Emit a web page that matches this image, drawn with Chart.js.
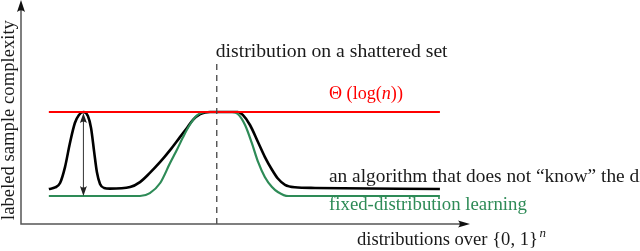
<!DOCTYPE html>
<html>
<head>
<meta charset="utf-8">
<script src="https://cdn.jsdelivr.net/npm/chart.js@4"></script>
<style>
  html, body { margin: 0; padding: 0; background: #fff; }
  #wrap { width: 640px; height: 251px; position: relative; }
</style>
</head>
<body>
<div id="wrap"><canvas id="chart"></canvas></div>
<script>
// domain: x = distributions (0..100), y = labeled sample complexity (0..100)
const curveStart = 6.2;
const curveEnd = 93.3;
const thetaLevel = 50;
const fixedLevel = 12.5;
const shatteredX = 43.6;
const shatteredTop = 72.3;
const spikeX = 13.9;

// algorithm that does not know the distribution
const algoX = [6.2, 7.6, 8.7, 9.8, 10.9, 12.0, 12.9, 13.9, 14.9, 15.6, 16.3, 16.9, 17.6, 18.5, 19.8, 24.3, 26.5, 28.7, 31.0, 33.2, 35.4, 37.0, 38.3, 39.9, 41.0, 42.1, 48.3, 49.4, 51.0, 52.8, 54.3, 55.9, 57.2, 58.8, 61.0, 65.5, 93.3];
const algoY = [15.6, 16.3, 18.3, 25.4, 36.2, 45.1, 48.7, 50.0, 48.2, 42.9, 32.1, 23.2, 17.9, 16.1, 15.8, 16.5, 18.7, 22.8, 27.7, 33.0, 38.8, 43.0, 46.5, 49.0, 49.8, 50.0, 50.0, 48.7, 44.2, 36.5, 30.0, 24.2, 20.3, 17.5, 16.4, 16.1, 15.6];

// fixed-distribution learning
const fixedX = [6.2, 26.5, 28.7, 31.0, 33.2, 34.7, 36.1, 37.6, 39.2, 41.4, 47.0, 48.3, 49.9, 51.4, 52.8, 54.3, 55.9, 57.2, 59.5, 93.3];
const fixedY = [12.5, 12.5, 13.8, 18.3, 27.2, 33.0, 38.8, 44.3, 48.5, 50.0, 50.0, 49.1, 44.2, 36.2, 27.7, 21.0, 16.5, 14.3, 12.5, 12.5];

const pts = (xs, ys) => xs.map((x, i) => ({ x, y: ys[i] }));

const RED = '#ff0000';
const GREEN = '#2e8b57';
const INK = '#1a1a1a';
const SERIF = "'Liberation Serif', 'DejaVu Serif', serif";

function arrowHead(ctx, x, y, dx, dy, len, half) {
    const nx = -dy, ny = dx;
    ctx.beginPath();
    ctx.moveTo(x, y);
    ctx.lineTo(x - dx * len + nx * half, y - dy * len + ny * half);
    ctx.quadraticCurveTo(x - dx * len * 0.7, y - dy * len * 0.7, x - dx * len - nx * half, y - dy * len - ny * half);
    ctx.closePath();
    ctx.fill();
}

// font size so that `text` spans `width` pixels
function fit(ctx, text, width) {
    ctx.font = '100px ' + SERIF;
    return 100 * width / ctx.measureText(text).width;
}

const decor = {
    id: 'decor',
    afterDatasetsDraw(chart) {
        const { ctx, scales: { x, y } } = chart;
        const x0 = x.getPixelForValue(0), y0 = y.getPixelForValue(0);
        const xTop = x.getPixelForValue(100), yTop = y.getPixelForValue(100);
        ctx.save();

        // axes
        ctx.strokeStyle = '#555';
        ctx.fillStyle = '#111';
        ctx.lineWidth = 1.5;
        ctx.beginPath();
        ctx.moveTo(x0, yTop + 6);
        ctx.lineTo(x0, y0);
        ctx.lineTo(xTop - 6, y0);
        ctx.stroke();
        arrowHead(ctx, x0, yTop, 0, -1, 12, 4);
        arrowHead(ctx, xTop, y0, 1, 0, 12, 3.5);

        // double arrow at the spike
        const sx = x.getPixelForValue(spikeX);
        ctx.fillStyle = '#222';
        arrowHead(ctx, sx, y.getPixelForValue(thetaLevel) + 1, 0, -1, 10, 3.5);
        arrowHead(ctx, sx, y.getPixelForValue(fixedLevel), 0, 1, 10, 3.5);

        ctx.textBaseline = 'middle';
        ctx.textAlign = 'left';

        let s = fit(ctx, 'distribution on a shattered set', 232);
        ctx.font = s + 'px ' + SERIF;
        ctx.fillStyle = INK;
        ctx.fillText('distribution on a shattered set', x.getPixelForValue(shatteredX) - 1, 52);

        s = fit(ctx, 'an algorithm that does not \u201cknow\u201d the', 296);
        ctx.font = s + 'px ' + SERIF;
        ctx.fillText('an algorithm that does not \u201cknow\u201d the distribution', 329, 177);

        s = fit(ctx, 'fixed-distribution learning', 198);
        ctx.font = s + 'px ' + SERIF;
        ctx.fillStyle = GREEN;
        ctx.fillText('fixed-distribution learning', 329, 205);

        // Θ (log(n))
        s = fit(ctx, '\u0398 (log(n))', 74);
        ctx.fillStyle = RED;
        let tx = 329;
        [['\u0398 (log(', ''], ['n', 'italic '], ['))', '']].forEach(([t, st]) => {
            ctx.font = st + s + 'px ' + SERIF;
            ctx.fillText(t, tx, 94);
            tx += ctx.measureText(t).width;
        });

        // x label
        ctx.fillStyle = INK;
        const xl = 'distributions over {0, 1}';
        s = fit(ctx, xl, 181);
        ctx.font = s + 'px ' + SERIF;
        ctx.fillText(xl, 357, 240);
        const w = ctx.measureText(xl).width;
        ctx.font = 'italic ' + (s * 0.7) + 'px ' + SERIF;
        ctx.fillText('n', 357 + w + 1.5, 234);

        // y label
        ctx.save();
        ctx.translate(9, 120);
        ctx.rotate(-Math.PI / 2);
        ctx.textAlign = 'center';
        s = fit(ctx, 'labeled sample complexity', 200);
        ctx.font = s + 'px ' + SERIF;
        ctx.fillText('labeled sample complexity', 0, 0);
        ctx.restore();

        ctx.restore();
    }
};

new Chart(document.getElementById('chart'), {
    type: 'line',
    data: {
        datasets: [
            {
                label: 'shattered',
                data: [{ x: shatteredX, y: 0 }, { x: shatteredX, y: shatteredTop }],
                borderColor: '#444',
                borderWidth: 1.3,
                borderDash: [6, 5],
            },
            {
                label: 'theta',
                data: [{ x: curveStart, y: thetaLevel }, { x: curveEnd, y: thetaLevel }],
                borderColor: RED,
                borderWidth: 2,
            },
            {
                label: 'fixed-distribution learning',
                data: pts(fixedX, fixedY),
                borderColor: GREEN,
                borderWidth: 2.2,
                cubicInterpolationMode: 'monotone',
            },
            {
                label: 'algorithm',
                data: pts(algoX, algoY),
                borderColor: '#000',
                borderWidth: 2.6,
                cubicInterpolationMode: 'monotone',
            },
            {
                label: 'gap',
                data: [{ x: spikeX, y: fixedLevel + 3 }, { x: spikeX, y: thetaLevel - 3 }],
                borderColor: '#333',
                borderWidth: 1,
            },
        ],
    },
    options: {
        responsive: true,
        maintainAspectRatio: false,
        animation: false,
        events: [],
        layout: { padding: { left: 21, right: 170, top: 0, bottom: 27 } },
        elements: { point: { radius: 0 } },
        plugins: { legend: { display: false }, tooltip: { enabled: false } },
        scales: {
            x: { type: 'linear', min: 0, max: 100, display: false },
            y: { type: 'linear', min: 0, max: 100, display: false },
        },
    },
    plugins: [decor],
});
</script>
</body>
</html>
